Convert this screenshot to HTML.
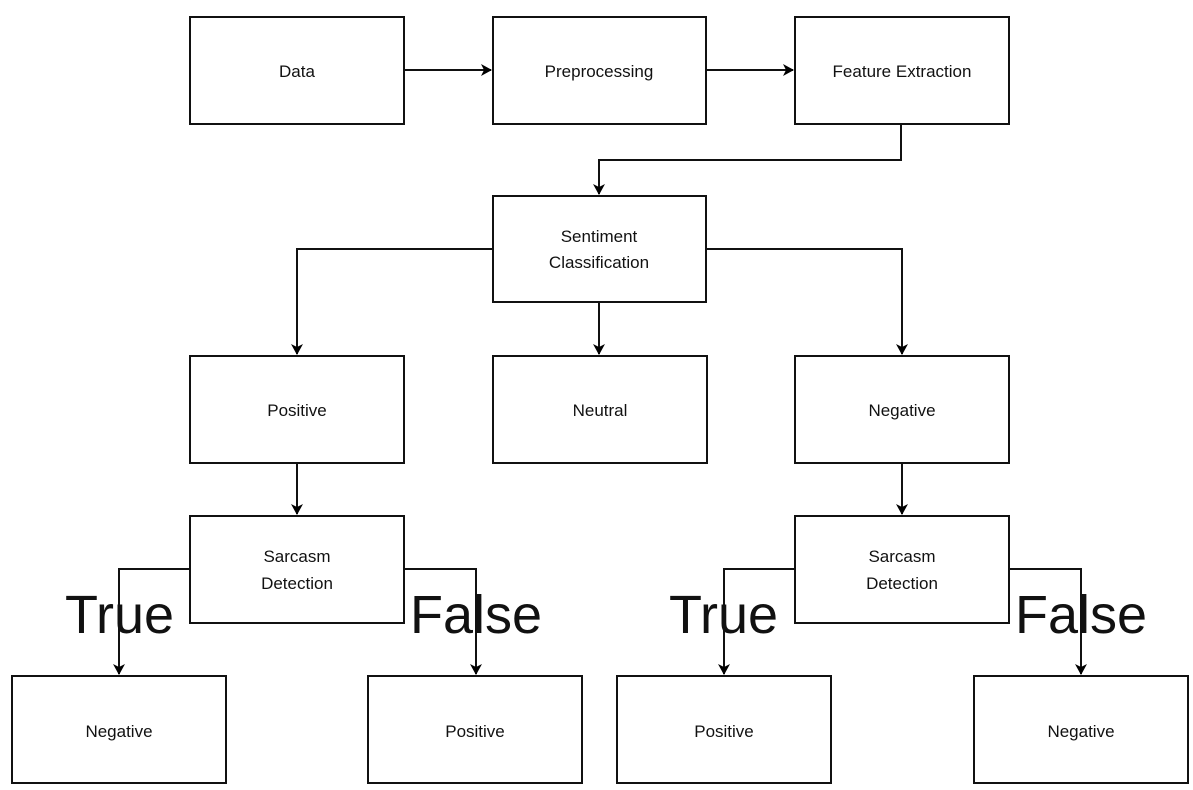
<!DOCTYPE html>
<html><head><meta charset="utf-8"><style>
html,body{margin:0;padding:0;background:#fff;}
svg{display:block;}
text{font-family:"Liberation Sans",Arial,sans-serif;fill:#111;}
</style></head><body>
<svg width="1193" height="790" viewBox="0 0 1193 790" xmlns="http://www.w3.org/2000/svg">
<defs><marker id="a" markerWidth="12" markerHeight="12" refX="10" refY="6" orient="auto" markerUnits="userSpaceOnUse"><path d="M0,0 L11,6 L0,12 L3,6 Z" fill="#000"/></marker></defs>
<g fill="#fff" stroke="#111" stroke-width="2">
<rect x="190" y="17" width="214" height="107"/>
<rect x="493" y="17" width="213" height="107"/>
<rect x="795" y="17" width="214" height="107"/>
<rect x="493" y="196" width="213" height="106"/>
<rect x="190" y="356" width="214" height="107"/>
<rect x="493" y="356" width="214" height="107"/>
<rect x="795" y="356" width="214" height="107"/>
<rect x="190" y="516" width="214" height="107"/>
<rect x="795" y="516" width="214" height="107"/>
<rect x="12" y="676" width="214" height="107"/>
<rect x="368" y="676" width="214" height="107"/>
<rect x="617" y="676" width="214" height="107"/>
<rect x="974" y="676" width="214" height="107"/>
</g>
<g fill="none" stroke="#111" stroke-width="2" marker-end="url(#a)">
<path d="M404,70 H491"/>
<path d="M706,70 H793"/>
<path d="M901,124 V160 H599 V194"/>
<path d="M493,249 H297 V354"/>
<path d="M706,249 H902 V354"/>
<path d="M599,302 V354"/>
<path d="M297,463 V514"/>
<path d="M902,463 V514"/>
<path d="M190,569 H119 V674"/>
<path d="M404,569 H476 V674"/>
<path d="M795,569 H724 V674"/>
<path d="M1009,569 H1081 V674"/>
</g>
<g font-size="17" text-anchor="middle">
<text x="297" y="77">Data</text>
<text x="599" y="77">Preprocessing</text>
<text x="902" y="77">Feature Extraction</text>
<text x="599" y="242">Sentiment</text>
<text x="599" y="268">Classification</text>
<text x="297" y="416">Positive</text>
<text x="600" y="416">Neutral</text>
<text x="902" y="416">Negative</text>
<text x="297" y="562">Sarcasm</text>
<text x="297" y="589">Detection</text>
<text x="902" y="562">Sarcasm</text>
<text x="902" y="589">Detection</text>
<text x="119" y="737">Negative</text>
<text x="475" y="737">Positive</text>
<text x="724" y="737">Positive</text>
<text x="1081" y="737">Negative</text>
</g>
<g font-size="54">
<text x="65" y="633">True</text>
<text x="410" y="633">False</text>
<text x="669" y="633">True</text>
<text x="1015" y="633">False</text>
</g>
</svg>
</body></html>
